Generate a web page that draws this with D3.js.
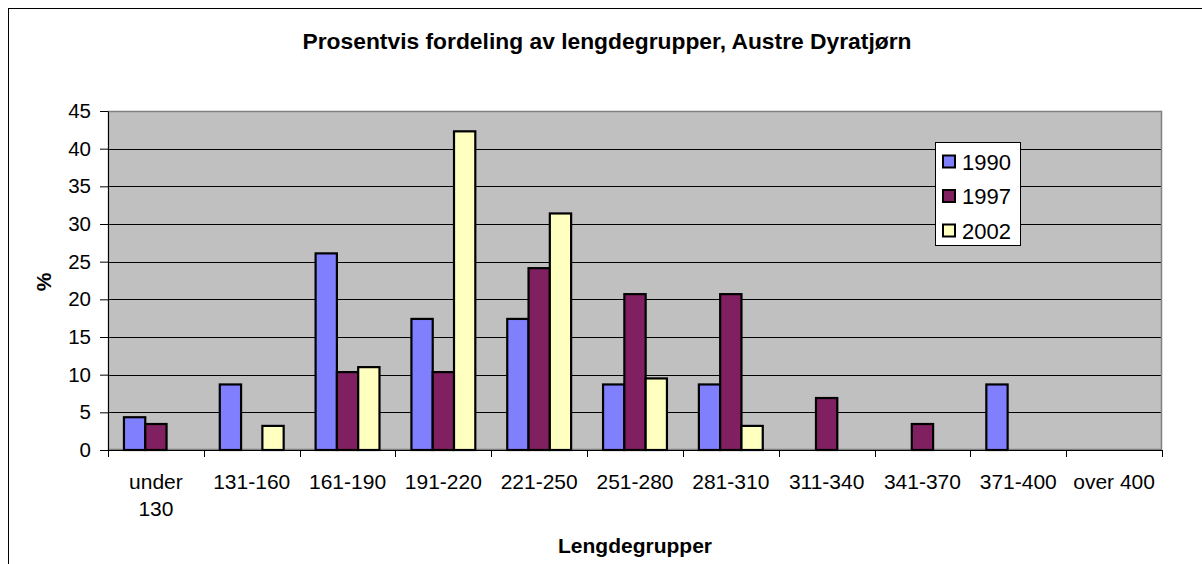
<!DOCTYPE html>
<html><head><meta charset="utf-8">
<script src="https://cdn.jsdelivr.net/npm/d3@7"></script>
<style>body{margin:0;background:#fff}svg{display:block}text{font-family:"Liberation Sans",Arial,sans-serif}</style>
</head><body>
<svg id="c" width="1202" height="564"></svg>
<script>
const categories = ["under 130","131-160","161-190","191-220","221-250","251-280","281-310","311-340","341-370","371-400","over 400"];
const seriesNames = ["1990","1997","2002"];
const values1990 = [4.35, 8.7, 26.1, 17.4, 17.4, 8.7, 8.7, 0, 0, 8.7, 0];
const values1997 = [3.45, 0, 10.34, 10.34, 24.14, 20.69, 20.69, 6.9, 3.45, 0, 0];
const values2002 = [0, 3.2, 11.0, 42.3, 31.4, 9.5, 3.2, 0, 0, 0, 0];
const yTicks = [0,5,10,15,20,25,30,35,40,45];
const colors = ["#8080FF","#802060","#FFFFC0"];
const title = "Prosentvis fordeling av lengdegrupper, Austre Dyratjørn";
const xTitle = "Lengdegrupper";
const yTitle = "%";

const svg = d3.select("#c");
const L = 108, R = 1162, T = 111, B = 450;

// outer border
svg.append("rect").attr("x",8.5).attr("y",8.5).attr("width",1220).attr("height",600)
  .attr("fill","#fff").attr("stroke","#000").attr("stroke-width",1);

const x = d3.scaleBand().domain(categories).range([L,R]).paddingInner(0).paddingOuter(0);
const y = d3.scaleLinear().domain([0,45]).range([B,T]);
// 3 bars + gap of 1.5 bar widths => outer padding 0.75 bar each side
const inner = d3.scaleBand().domain(seriesNames).range([0,x.bandwidth()]).paddingInner(0).paddingOuter(0.75);

// plot background
svg.append("rect").attr("x",L).attr("y",T).attr("width",R-L).attr("height",B-T).attr("fill","#C0C0C0");

// gridlines
svg.append("g").selectAll("line").data(yTicks.filter(d=>d>0)).join("line")
  .attr("x1",L).attr("x2",R).attr("y1",d=>Math.round(y(d))+0.5).attr("y2",d=>Math.round(y(d))+0.5)
  .attr("stroke","#000").attr("stroke-width",1);

// plot border
svg.append("rect").attr("x",L+0.5).attr("y",T+0.5).attr("width",R-L-1).attr("height",B-T-1)
  .attr("fill","none").attr("stroke","#808080").attr("stroke-width",1.5);

// bars
const series = [values1990, values1997, values2002];
series.forEach((vals,si)=>{
  svg.append("g").selectAll("rect").data(vals.map((v,i)=>({v,c:categories[i]})).filter(d=>d.v>0)).join("rect")
    .attr("x",d=>x(d.c)+inner(seriesNames[si]))
    .attr("width",inner.bandwidth())
    .attr("y",d=>y(d.v))
    .attr("height",d=>B-y(d.v))
    .attr("fill",colors[si]).attr("stroke","#000").attr("stroke-width",2.2);
});

// y axis
const yAxis = d3.axisLeft(y).tickValues(yTicks).tickSize(8).tickPadding(9).tickSizeOuter(0);
const ya = svg.append("g").attr("transform",`translate(${L},0)`).call(yAxis);
ya.select(".domain").attr("stroke","#000").attr("stroke-width",1);
ya.selectAll(".tick line").attr("stroke","#000");
ya.selectAll("text").attr("font-size",20.5).attr("fill","#000").attr("font-family","Liberation Sans, Arial, sans-serif");

// x axis
const xAxis = d3.axisBottom(x).tickSize(0).tickFormat("");
const xa = svg.append("g").attr("transform",`translate(0,${B})`).call(xAxis);
xa.select(".domain").attr("stroke","#000").attr("stroke-width",1);
const bounds = categories.map(c=>x(c)).concat([R]);
svg.append("g").selectAll("line").data(bounds).join("line")
  .attr("x1",d=>Math.round(d)+0.5).attr("x2",d=>Math.round(d)+0.5).attr("y1",B).attr("y2",B+7)
  .attr("stroke","#000");

const xl = svg.append("g").selectAll("text").data(categories).join("text")
  .attr("x",d=>x(d)+x.bandwidth()/2).attr("y",489)
  .attr("text-anchor","middle").attr("font-size",21).attr("fill","#000");
xl.each(function(d){
  const t = d3.select(this);
  if (d === "under 130") {
    t.append("tspan").attr("x",x(d)+x.bandwidth()/2).text("under");
    t.append("tspan").attr("x",x(d)+x.bandwidth()/2).attr("dy",27).text("130");
  } else t.text(d);
});

// titles
svg.append("text").attr("x",607).attr("y",49).attr("text-anchor","middle")
  .attr("font-size",21.5).attr("font-weight","bold")
  .attr("textLength",609).attr("lengthAdjust","spacingAndGlyphs").text(title);
svg.append("text").attr("x",(L+R)/2).attr("y",553).attr("text-anchor","middle")
  .attr("font-size",21).attr("font-weight","bold").text(xTitle);
svg.append("text").attr("transform","translate(51,282) rotate(-90)").attr("text-anchor","middle")
  .attr("font-size",21).attr("font-weight","bold").text(yTitle);

// legend
const lg = svg.append("g");
lg.append("rect").attr("x",935.5).attr("y",142.5).attr("width",85).attr("height",103)
  .attr("fill","#fff").attr("stroke","#000").attr("stroke-width",1);
seriesNames.forEach((n,i)=>{
  const cy = 161.5 + i*34.5;
  lg.append("rect").attr("x",943).attr("y",cy-6).attr("width",12).attr("height",12)
    .attr("fill",colors[i]).attr("stroke","#000").attr("stroke-width",2);
  lg.append("text").attr("x",962).attr("y",cy+8).attr("font-size",22).text(n);
});
</script>
</body></html>
